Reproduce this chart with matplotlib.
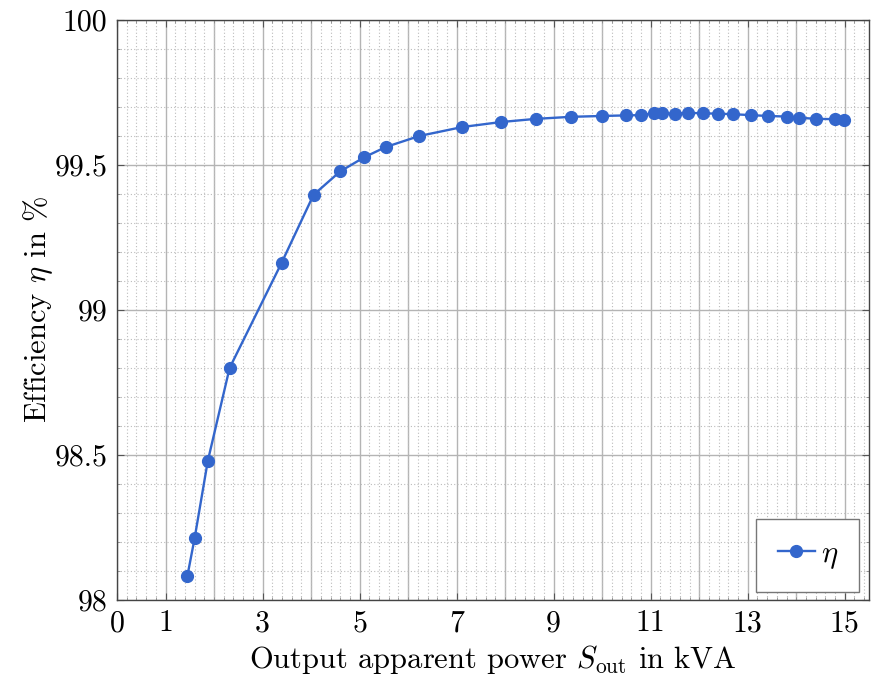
import matplotlib
matplotlib.use("Agg")
import matplotlib.pyplot as plt
from matplotlib.ticker import MultipleLocator, FixedFormatter, FixedLocator

s_out = [1.45, 1.60, 1.87, 2.32, 3.39, 4.05, 4.60, 5.10, 5.54, 6.23,
         7.12, 7.91, 8.63, 9.35, 9.99, 10.50, 10.80, 11.06, 11.23, 11.51,
         11.77, 12.08, 12.39, 12.70, 13.06, 13.41, 13.80, 14.06, 14.41,
         14.80, 14.99]
eta = [98.083, 98.214, 98.479, 98.800, 99.162, 99.397, 99.478, 99.527,
       99.562, 99.600, 99.631, 99.648, 99.659, 99.666, 99.669, 99.671,
       99.672, 99.678, 99.678, 99.677, 99.680, 99.678, 99.677, 99.675,
       99.672, 99.669, 99.667, 99.663, 99.659, 99.658, 99.655]

xtick_labels = ["0", "1", "3", "5", "7", "9", "11", "13", "15"]
ytick_labels = ["98", "98.5", "99", "99.5", "100"]

plt.rcParams['font.family'] = 'serif'
plt.rcParams['font.serif'] = ['cmr10']
plt.rcParams['mathtext.fontset'] = 'cm'
plt.rcParams['axes.formatter.use_mathtext'] = True

fig = plt.figure(figsize=(8.82, 6.77), dpi=100)
ax = fig.add_axes([0.1327, 0.1137, 0.8526, 0.8568])

blue = '#3366cc'
ax.plot(s_out, eta, color=blue, lw=1.7, marker='o', ms=8.5, label=r'$\eta$')

ax.set_xlim(0, 15.5)
ax.set_ylim(98, 100)

ax.xaxis.set_major_locator(FixedLocator([float(t) for t in xtick_labels]))
ax.xaxis.set_major_formatter(FixedFormatter(xtick_labels))
ax.xaxis.set_minor_locator(MultipleLocator(0.2))
ax.yaxis.set_major_locator(FixedLocator([float(t) for t in ytick_labels]))
ax.yaxis.set_major_formatter(FixedFormatter(ytick_labels))
ax.yaxis.set_minor_locator(MultipleLocator(0.1))

# solid grid every 1 kVA, even where no label is printed
for xv in range(0, 16):
    ax.axvline(xv, color='#b4b4b4', lw=1.0, zorder=0.6)
ax.grid(True, which='major', axis='y', color='#b4b4b4', lw=1.0, zorder=0.6)
ax.grid(True, which='minor', color='#bcbcbc', lw=0.8, ls=(0, (1, 2)), zorder=0.5)

ax.tick_params(which='major', direction='in', length=5, labelsize=21.5,
               top=True, right=True, color='#555555', pad=7)
ax.tick_params(which='minor', direction='in', length=2.5, top=True,
               right=True, color='#888888')
for sp in ax.spines.values():
    sp.set_color('#444444')
    sp.set_linewidth(1.0)

ax.set_xlabel(r'Output apparent power $S_{\mathrm{out}}$ in kVA', fontsize=22, labelpad=4)
ax.set_ylabel(r'Efficiency $\eta$ in %', fontsize=22)
ax.yaxis.set_label_coords(-0.083, 0.5)

leg = ax.legend(loc='lower right', fontsize=22, fancybox=False,
                edgecolor='#777777', framealpha=1, borderpad=0.7,
                handlelength=1.2, handletextpad=0.2, borderaxespad=0,
                bbox_to_anchor=(0.987, 0.014))
leg.get_frame().set_linewidth(1.0)

fig.savefig('out.png', dpi=100)
